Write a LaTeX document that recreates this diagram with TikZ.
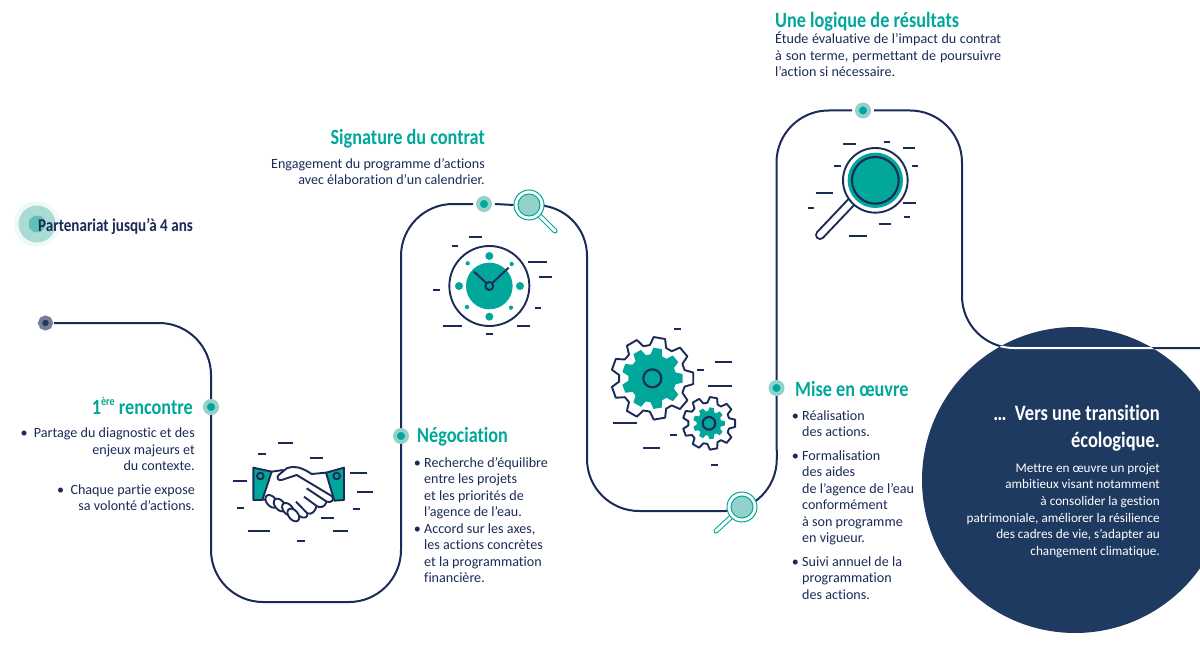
\documentclass[tikz,border=0pt]{standalone}
\usepackage{fontspec}
\setmainfont[Ligatures=CommonOff]{Carlito}
\newfontfamily\condfont[FakeStretch=0.84,Ligatures=CommonOff]{Carlito}
\usepackage{tikz}
\usetikzlibrary{positioning,backgrounds}
\definecolor{navyc}{HTML}{1B2A57}
\definecolor{bluec}{HTML}{1F3A60}
\definecolor{tealc}{HTML}{00A79A}
\definecolor{tealp}{HTML}{93D2CB}
\definecolor{teald}{HTML}{5FC0B6}
\definecolor{tealh}{HTML}{A8DCD5}
\definecolor{tealv}{HTML}{F1F9F8}
\newcommand{\bul}{\llap{•\ }}
\newcommand{\dashes}[1]{\foreach \xa/\xb/\yy in {#1} \draw[dsh] (\xa,\yy) -- (\xb,\yy);}
% centre x, centre y, outer radius, root radius, teeth, rotation
\newcommand{\gearpath}[6]{%
  \begin{scope}[shift={(#1,#2)}]
    \pgfmathsetmacro{\stp}{360/#5}
    \path[#6] ({-0.36*\stp}:#4)
      \foreach \k in {0,...,\numexpr#5-1\relax} {
        -- ({(\k-0.36)*\stp}:#4) -- ({(\k-0.2)*\stp}:#3)
        -- ({(\k+0.2)*\stp}:#3) -- ({(\k+0.36)*\stp}:#4)
      } -- cycle;
  \end{scope}}
\tikzset{
  route/.style  = {draw=navyc, line width=2pt, rounded corners=52pt, line join=round},
  dsh/.style    = {draw=navyc, line width=2.1pt},
  icn/.style    = {draw=navyc, line width=1.9pt, line join=round},
  dotn/.style   = {circle, draw=tealp, fill=tealc, line width=4pt, minimum size=12pt, inner sep=0pt},
  dots/.style   = {circle, fill=tealc, inner sep=0pt},
  lensn/.style  = {circle, draw=tealc, fill=white, line width=1pt, minimum size=30pt, inner sep=0pt},
  lensi/.style  = {circle, draw=tealc, fill=tealp, line width=1pt, minimum size=22pt, inner sep=0pt},
  lensh/.style  = {draw=tealc, line width=1pt, double=white, double distance=3pt, line cap=round},
  hd/.style     = {font=\condfont\bfseries\fontsize{21.7}{24}\selectfont, text=tealc, inner sep=0pt},
  bod/.style    = {font=\fontsize{14.1}{16.5}\selectfont, text=navyc, inner sep=0pt},
}
\begin{document}
\begin{tikzpicture}[x=1pt,y=-1pt]
  \useasboundingbox (0,0) rectangle (1200,650);

  \node[circle, fill=tealv, minimum size=46pt, inner sep=0pt] (parthalo) at (37,224) {};
  \node[circle, fill=tealh, minimum size=37pt, inner sep=0pt] (partout) at (37,224) {};
  \node[circle, fill=teald, minimum size=17pt, inner sep=0pt] (partin) at (37,224) {};
  \node[anchor=west, inner sep=0pt, text=navyc, font=\condfont\bfseries\fontsize{18}{20}\selectfont] (part) at (38,226) {Partenariat jusqu’à 4 ans};

  % points on the route
  \node[circle, draw=navyc!60, fill=bluec, line width=4pt, minimum size=11pt, inner sep=0pt] (start) at (45.5,323) {};
  \node[dotn] (rencontre) at (211,407) {};
  \node[dotn] (nego) at (401,436) {};
  \node[dotn] (signe) at (484,204) {};
  \node[dotn] (mise) at (776.5,388) {};
  \node[dotn] (bilan) at (863,110.5) {};

  % small lenses
  \coordinate (lenshA) at (555,231);
  \draw[lensh] (529,205) -- (lenshA);
  \node[lensn] (lensA) at (529,205) {};
  \node[lensi] (lensAin) at (529,205) {};
  \coordinate (lenshB) at (716,531);
  \draw[lensh] (742,507) -- (lenshB);
  \node[lensn] (lensB) at (742,507) {};
  \node[lensi] (lensBin) at (742,507) {};

  \node[circle, fill=bluec, minimum size=306pt, inner sep=0pt] (vers) at (1075,480) {};

  \begin{scope}[on background layer]
    \draw[route] (start.east) ++(1,0) -- (211,323) -- ([yshift=-3pt]rencontre.north);
    \draw[route] ([yshift=3pt]rencontre.south) -- (211,602) -- (401,602) -- ([yshift=3pt]nego.south);
    \draw[route] ([yshift=-3pt]nego.north) |- ([xshift=-3pt]signe.west);
    \draw[route] ([xshift=3pt]signe.east) -- (lensA.west);
    \draw[route] (lensA.east) -- (587,204) -- (587,511) -- (777,511) -- ([yshift=3pt]mise.south);
    \draw[route] ([yshift=-3pt]mise.north) |- ([xshift=-3pt]bilan.west);
    \draw[route] ([xshift=3pt]bilan.east) -- (962,110.5) -- (962,348) -- (1200,348);
  \end{scope}
  \begin{scope}
    \clip (1075,480) circle (153);
    \draw[route, draw=white] (962,110.5) -- (962,348) -- (1200,348);
  \end{scope}

  % handshake
  \begin{scope}[shift={(200,420)},scale=1/3]
    \dashes{233/280/69,175/197/103,330/370/113,450/502/160,100/140/182,472/518/217,112/133/264,458/480/268,362/402/293,143/210/334,398/443/334,292/314/364}
    \draw[icn, fill=tealc] (160,143) -- (215,155) -- (187,240) -- (160,240) -- cycle;
    \draw[icn, fill=tealc] (432,143) -- (378,158) -- (403,242) -- (432,240) -- cycle;
    \draw[icn] (181,168) circle (10);
    \draw[icn] (410,168) circle (10);
    \draw[icn] (215,155) -- (250,150);
    \draw[icn] (187,238) -- (200,240);
    \draw[icn] (378,158) -- (335,162) .. controls (310,145) and (285,135) .. (260,145)
      -- (236,165) .. controls (228,175) and (235,182) .. (245,180) -- (290,165) -- (395,228)
      .. controls (405,238) and (395,250) .. (380,245) -- (320,205);
    \draw[icn] (380,245) .. controls (375,262) and (360,265) .. (350,258) -- (312,230);
    \draw[icn] (350,258) .. controls (345,275) and (335,285) .. (322,280) -- (288,245);
    \draw[icn] (322,280) .. controls (325,292) and (312,298) .. (298,288);
    \foreach \fx/\fy in {214/244,239/255,264/268,280/285}
      \draw[icn, fill=white, rotate around={40:(\fx,\fy)}] (\fx,\fy) ellipse (14 and 22);
  \end{scope}

  % clock
  \begin{scope}[shift={(420,180)},scale=1/3]
    \dashes{148/187/171,97/115/199,325/382/245,356/395/292,40/60/330,344/362/383,68/126/437,292/331/437,199/218/462}
    \draw[icn] (208,318) circle (120);
    \fill[tealc] (208,318) circle (70);
    \foreach \cx/\cy in {208/228,300/318,208/410,117/318}
      \fill[tealc] (\cx,\cy) circle (12);
    \foreach \cx/\cy in {143/250,275/252,141/381,273/383}
      \fill[tealc] (\cx,\cy) circle (6.5);
    \draw[icn] (200,310) -- (162,275);
    \draw[icn] (218,308) -- (266,263);
    \draw[icn, fill=tealc] (208,318) circle (12);
  \end{scope}

  % gears
  \begin{scope}[shift={(600,320)},scale=1/3]
    \dashes{222/243/27,346/396/125,290/312/150,324/396/198,38/110/310,210/232/346,130/180/384,333/354/435}
    \gearpath{157}{175}{124}{100}{9}{icn}
    \gearpath{157}{175}{92}{72}{9}{fill=tealc}
    \draw[icn, line width=2.1pt] (157,175) circle (27);
    \gearpath{327}{310}{79}{62}{9}{icn}
    \gearpath{327}{310}{48}{37}{9}{fill=tealc}
    \draw[icn, line width=2.1pt] (327,310) circle (19);
  \end{scope}

  % big lens
  \begin{scope}[shift={(770,95)},scale=1/3]
    \dashes{220/258/146,341/360/140,398/436/159,193/212/212,426/444/212,137/190/293,113/132/340,400/438/325,326/364/387,402/420/367,236/290/422}
    \draw[draw=navyc, line width=2pt, double=white, double distance=6pt, line cap=round] (245,320) -- (150,420);
    \draw[icn, fill=white] (316,256) circle (97);
    \fill[tealc] (316,256) circle (83);
    \draw[icn, line width=2.1pt] (316,256) circle (70);
  \end{scope}

  \node[hd, anchor=east] (renc) at (193,406) {1{\raisebox{0.42em}{\fontsize{12}{12}\selectfont ère}} rencontre};
  \node[bod, anchor=north east, align=right] (renct) at (195,428) {•\ \ Partage du diagnostic et des\\enjeux majeurs et\\du contexte.\\[7pt]•\ \ Chaque partie expose\\sa volonté d’actions.};

  \node[hd, anchor=west] (negoh) at (417,437) {Négociation};
  \node[bod, anchor=north west, align=left] (negot) at (424,457) {\bul Recherche d’équilibre\\entre les projets\\et les priorités de\\l’agence de l’eau.\\\bul Accord sur les axes,\\les actions concrètes\\et la programmation\\financière.};

  \node[hd, anchor=east] (signh) at (485,139) {Signature du contrat};
  \node[bod, anchor=north east, align=right] (signt) at (485,158) {Engagement du programme d’actions\\avec élaboration d’un calendrier.};

  \node[hd, anchor=west] (miseh) at (795,389) {Mise en œuvre};
  \node[bod, anchor=north west, align=left] (miset) at (802,410.5) {\bul Réalisation\\des actions.\\[7pt]\bul Formalisation\\des aides\\de l’agence de l’eau\\conformément\\à son programme\\en vigueur.\\[7pt]\bul Suivi annuel de la\\programmation\\des actions.};

  \node[hd, anchor=west] (bilanh) at (775,22) {Une logique de résultats};
  \node[bod, anchor=north west, text width=226pt, align=justify] (bilant) at (775,32) {Étude évaluative de l’impact du contrat\linebreak à son terme, permettant de poursuivre\linebreak l’action si nécessaire.};

  \node[hd, text=white, anchor=north east, align=right, font=\condfont\bfseries\fontsize{22}{27}\selectfont] (versh) at (1160,405) {…\ \ Vers une transition\\écologique.};
  \node[bod, text=white, anchor=north east, align=right, font=\fontsize{13.2}{16.6}\selectfont] (verst) at (1160,463) {Mettre en œuvre un projet\\ambitieux visant notamment\\à consolider la gestion\\patrimoniale, améliorer la résilience\\des cadres de vie, s’adapter au\\changement climatique.};
\end{tikzpicture}
\end{document}
